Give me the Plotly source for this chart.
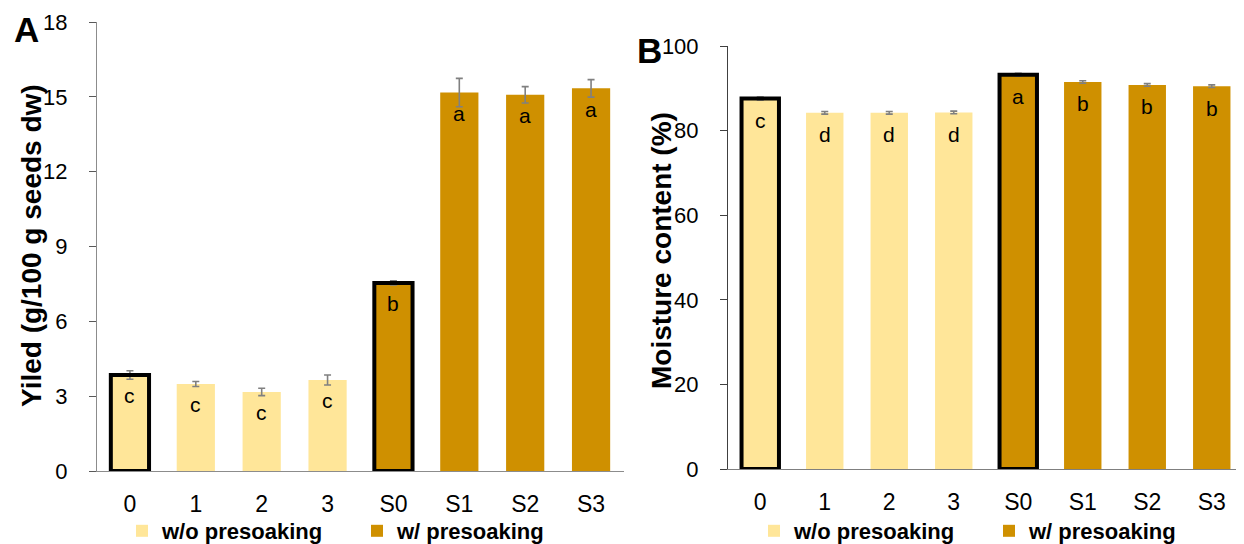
import plotly.graph_objects as go

categories = ["0", "1", "2", "3", "S0", "S1", "S2", "S3"]

yield_vals = [3.85, 3.49, 3.17, 3.65, 7.54, 15.17, 15.08, 15.34]
yield_err = [0.17, 0.10, 0.15, 0.20, 0.08, 0.57, 0.33, 0.35]
yield_letters = ["c", "c", "c", "c", "b", "a", "a", "a"]

moist_vals = [87.6, 84.2, 84.2, 84.3, 93.2, 91.5, 90.8, 90.5]
moist_err = [0.35, 0.3, 0.3, 0.3, 0.35, 0.3, 0.3, 0.3]
moist_letters = ["c", "d", "d", "d", "a", "b", "b", "b"]

series_names = ["<b>w/o presoaking</b>", "<b>w/ presoaking</b>"]
outlined_idx = [0, 4]   # control bars drawn with a black frame

LIGHT = "#FFE699"
DARK = "#CF9000"
FONT = "Arial, Liberation Sans, sans-serif"

# page body has an 8px margin: work in screenshot pixels and convert
OFF = 8
W, H = 1236, 536
def px(x):
    return (x - OFF) / W
def py(y):
    return 1 - (y - OFF) / H

fig = go.Figure()

def add_panel(vals, errs, xa, ya, legend):
    for k, (sl, color) in enumerate([(slice(0, 4), LIGHT), (slice(4, 8), DARK)]):
        fig.add_trace(go.Bar(
            x=categories[sl], y=vals[sl], name=series_names[k],
            marker=dict(color=color, line=dict(width=0)),
            error_y=dict(type="data", array=errs[sl], color="#808080",
                         thickness=1.6, width=3.5),
            xaxis=xa, yaxis=ya, legend=legend,
        ))
    fig.add_trace(go.Bar(
        x=[categories[i] for i in outlined_idx], y=[vals[i] for i in outlined_idx],
        marker=dict(color="rgba(0,0,0,0)", line=dict(color="black", width=4)),
        showlegend=False, hoverinfo="skip", xaxis=xa, yaxis=ya,
    ))

add_panel(yield_vals, yield_err, "x", "y", "legend")
add_panel(moist_vals, moist_err, "x2", "y2", "legend2")

annotations = []
for c, v, t in zip(categories, yield_vals, yield_letters):
    annotations.append(dict(x=c, y=v, xref="x", yref="y", text=t, showarrow=False,
                            yshift=-21, font=dict(size=21, color="black", family=FONT)))
for c, v, t in zip(categories, moist_vals, moist_letters):
    annotations.append(dict(x=c, y=v, xref="x2", yref="y2", text=t, showarrow=False,
                            yshift=-22, font=dict(size=21, color="black", family=FONT)))

common_ann = dict(xref="paper", yref="paper", showarrow=False, xanchor="center", yanchor="middle")
annotations += [
    dict(text="<b>Yiled (g/100 g seeds dw)</b>", x=px(31), y=py(246), textangle=-90,
         font=dict(size=28, color="black", family=FONT), **common_ann),
    dict(text="<b>Moisture content (%)</b>", x=px(661), y=py(251), textangle=-90,
         font=dict(size=28, color="black", family=FONT), **common_ann),
    dict(text="<b>A</b>", x=px(26), y=py(30), font=dict(size=35, color="black", family=FONT),
         **common_ann),
    dict(text="<b>B</b>", x=px(649), y=py(51), font=dict(size=35, color="black", family=FONT),
         **common_ann),
]

xcommon = dict(type="category", categoryorder="array", categoryarray=categories,
               range=[-0.5, 7.5], showline=True, ticks="", showgrid=False, automargin=False,
               ticklabelstandoff=12, tickfont=dict(size=23, color="black", family=FONT))
ycommon = dict(showline=True, ticks="outside", ticklen=7, showgrid=False, zeroline=False,
               automargin=False, ticklabelstandoff=17,
               tickfont=dict(size=22, color="black", family=FONT))

legcommon = dict(orientation="h", xanchor="left", yanchor="middle", bgcolor="rgba(0,0,0,0)",
                 font=dict(size=22, color="black", family=FONT), entrywidth=190,
                 itemclick=False)

fig.update_layout(
    width=W, height=H,
    margin=dict(l=0, r=0, t=0, b=0, autoexpand=False),
    paper_bgcolor="white", plot_bgcolor="white",
    barmode="overlay", bargap=0.42,
    font=dict(family=FONT),
    xaxis=dict(domain=[px(97), px(624)], anchor="y", linecolor="#8c8c8c", **xcommon),
    yaxis=dict(domain=[py(471), py(22)], anchor="x", range=[0, 18], dtick=3,
               linecolor="#8c8c8c", tickcolor="#595959", **ycommon),
    xaxis2=dict(domain=[px(728), 1.0], anchor="y2", linecolor="#7f7f7f", **xcommon),
    yaxis2=dict(domain=[py(469), py(46)], anchor="x2", range=[0, 100], dtick=20,
                linecolor="#404040", tickcolor="#404040", **ycommon),
    legend=dict(x=px(122), y=py(531), **legcommon),
    legend2=dict(x=px(754), y=py(531), **legcommon),
    annotations=annotations,
    showlegend=True,
)

fig.write_html("out.html")
